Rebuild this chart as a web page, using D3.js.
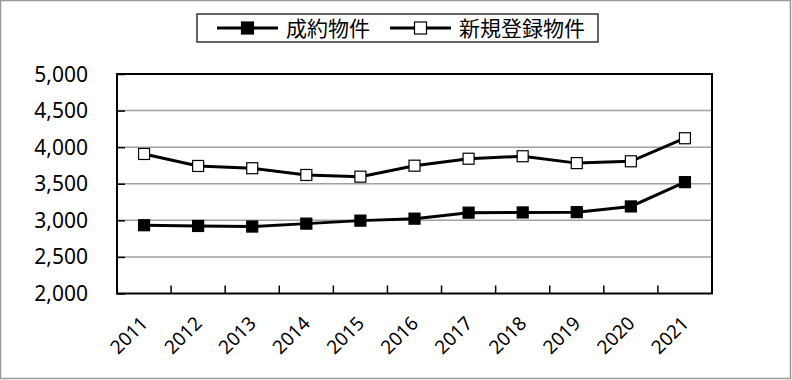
<!DOCTYPE html>
<meta charset="utf-8">
<style>
    body { margin: 0; background: #fff; }
    .ylab { font: 21px "Noto Sans", "Open Sans", sans-serif; fill: #000; }
    .xlab { font: 19px "Noto Sans", "Open Sans", sans-serif; fill: #000; }
    .leg { font: 21px "Noto Sans CJK JP", sans-serif; fill: #000; }
</style>
<body>
<script src="https://d3js.org/d3.v7.min.js"></script>
<script>
    // data
    var years = ["2011", "2012", "2013", "2014", "2015", "2016", "2017", "2018", "2019", "2020", "2021"];
    var seiyaku = [2933, 2923, 2915, 2955, 2996, 3023, 3105, 3108, 3112, 3190, 3522];
    var shinki = [3907, 3743, 3712, 3620, 3597, 3747, 3842, 3876, 3782, 3807, 4122];
    var yTicks = [2000, 2500, 3000, 3500, 4000, 4500, 5000];
    var seriesNames = ["成約物件", "新規登録物件"];

    var width = 792, height = 380;
    var pLeft = 117, pRight = 712, pTop = 74, pBottom = 293.5;

    var svg = d3.select("body").append("svg")
        .attr("width", width).attr("height", height);

    // outer frame
    svg.append("rect")
        .attr("x", 0.5).attr("y", 0.5)
        .attr("width", 790).attr("height", 378)
        .attr("fill", "none").attr("stroke", "#9a9a9a").attr("stroke-width", 1.5);

    var x = d3.scaleBand().domain(years).range([pLeft, pRight]);
    var y = d3.scaleLinear().domain([2000, 5000]).range([pBottom, pTop]);

    // grid lines
    svg.append("g").selectAll("line")
        .data(yTicks.filter(function(d) { return d > 2000 && d < 5000; }))
        .enter().append("line")
        .attr("x1", pLeft).attr("x2", pRight)
        .attr("y1", function(d) { return y(d); })
        .attr("y2", function(d) { return y(d); })
        .attr("stroke", "#a0a0a0").attr("stroke-width", 1.5);

    // y axis (ticks inward)
    var yAxis = svg.append("g")
        .attr("transform", "translate(" + pLeft + ",0)")
        .call(d3.axisRight(y).tickValues(yTicks).tickSize(8).tickFormat(""));
    yAxis.select(".domain").remove();
    yAxis.selectAll("line").attr("stroke", "#000").attr("stroke-width", 1.5);

    svg.append("g").selectAll("text")
        .data(yTicks).enter().append("text")
        .attr("class", "ylab")
        .attr("x", 88)
        .attr("y", function(d) { return y(d); })
        .attr("dy", "0.36em")
        .attr("text-anchor", "end")
        .text(d3.format(","));

    // x axis ticks at band boundaries (inward)
    svg.append("g").selectAll("line")
        .data(years.slice(1)).enter().append("line")
        .attr("x1", function(d) { return x(d); })
        .attr("x2", function(d) { return x(d); })
        .attr("y1", pBottom).attr("y2", pBottom - 8)
        .attr("stroke", "#000").attr("stroke-width", 1.5);

    svg.append("g").selectAll("text")
        .data(years).enter().append("text")
        .attr("class", "xlab")
        .attr("text-anchor", "end")
        .attr("transform", function(d) {
            return "translate(" + (x(d) + x.bandwidth() / 2 + 5) + "," + (pBottom + 31) + ") rotate(-45)";
        })
        .text(function(d) { return d; });

    // plot border
    svg.append("rect")
        .attr("x", pLeft).attr("y", pTop)
        .attr("width", pRight - pLeft).attr("height", pBottom - pTop)
        .attr("fill", "none").attr("stroke", "#000").attr("stroke-width", 2);

    var line = d3.line()
        .x(function(d, i) { return x(years[i]) + x.bandwidth() / 2; })
        .y(function(d) { return y(d); });

    function drawSeries(vals, fill) {
        svg.append("path").datum(vals)
            .attr("d", line)
            .attr("fill", "none").attr("stroke", "#000").attr("stroke-width", 3);
        svg.append("g").selectAll("rect")
            .data(vals).enter().append("rect")
            .attr("x", function(d, i) { return x(years[i]) + x.bandwidth() / 2 - 5.5; })
            .attr("y", function(d) { return y(d) - 5.5; })
            .attr("width", 11).attr("height", 11)
            .attr("fill", fill).attr("stroke", "#000").attr("stroke-width", 1.2);
    }
    drawSeries(seiyaku, "#000");
    drawSeries(shinki, "#fff");

    // legend
    var leg = svg.append("g");
    leg.append("rect")
        .attr("x", 197).attr("y", 14).attr("width", 401).attr("height", 28)
        .attr("fill", "#fff").attr("stroke", "#333").attr("stroke-width", 1.5);

    var legItems = [
        { name: seriesNames[0], fill: "#000", x0: 217 },
        { name: seriesNames[1], fill: "#fff", x0: 390 }
    ];
    legItems.forEach(function(it) {
        leg.append("line")
            .attr("x1", it.x0).attr("x2", it.x0 + 61)
            .attr("y1", 28).attr("y2", 28)
            .attr("stroke", "#000").attr("stroke-width", 3);
        leg.append("rect")
            .attr("x", it.x0 + 30.5 - 6).attr("y", 22)
            .attr("width", 12).attr("height", 12)
            .attr("fill", it.fill).attr("stroke", "#000").attr("stroke-width", 1.2);
        leg.append("text")
            .attr("class", "leg")
            .attr("x", it.x0 + 69).attr("y", 28)
            .attr("dy", "0.36em")
            .text(it.name);
    });
</script>
</body>
